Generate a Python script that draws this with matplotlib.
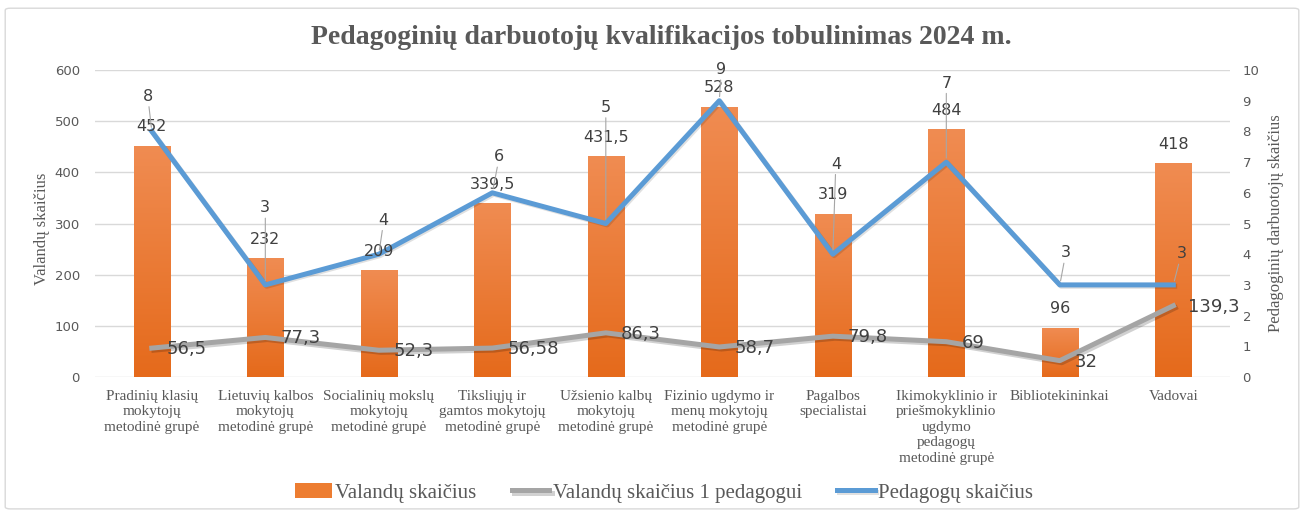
import numpy as np
import matplotlib.pyplot as plt
import matplotlib.patheffects as pe
from matplotlib.colors import LinearSegmentedColormap
from matplotlib.patches import FancyBboxPatch

categories = ['Pradinių klasių\nmokytojų\nmetodinė grupė',
              'Lietuvių kalbos\nmokytojų\nmetodinė grupė',
              'Socialinių mokslų\nmokytojų\nmetodinė grupė',
              'Tiksliųjų ir\ngamtos mokytojų\nmetodinė grupė',
              'Užsienio kalbų\nmokytojų\nmetodinė grupė',
              'Fizinio ugdymo ir\nmenų mokytojų\nmetodinė grupė',
              'Pagalbos\nspecialistai',
              'Ikimokyklinio ir\npriešmokyklinio\nugdymo\npedagogų\nmetodinė grupė',
              'Bibliotekininkai',
              'Vadovai']
hours = [452, 232, 209, 339.5, 431.5, 528, 319, 484, 96, 418]
hours_per_teacher = [56.5, 77.3, 52.3, 56.58, 86.3, 58.7, 79.8, 69, 32, 139.3]
teachers = [8, 3, 4, 6, 5, 9, 4, 7, 3, 3]

# label offsets for the teacher count labels (pixels)
blue_off = [(-4, 35), (0, 77), (5, 34), (7, 36), (0, 116),
            (2, 31), (3, 90), (0, 79), (6, 32), (8, 31)]

ORANGE = '#ED7D31'
GREY = '#A5A5A5'
BLUE = '#5B9BD5'
TXT = '#595959'
NUM = '#404040'
SERIF = 'Liberation Serif'


def fmt(v):
    return f'{v:g}'.replace('.', ',')


fig = plt.figure(figsize=(13.04, 5.13), dpi=100)
fig.patches.append(FancyBboxPatch((0.004, 0.008), 0.992, 0.976,
                                  boxstyle='round,pad=0,rounding_size=0.004',
                                  transform=fig.transFigure, fc='none',
                                  ec='#D9D9D9', lw=1))

ax = fig.add_axes([0.0729, 0.2651, 0.8704, 0.5984])
ax2 = ax.twinx()
x = np.arange(len(categories))

# bars with a vertical gradient
bars = ax.bar(x, hours, width=0.32, color=ORANGE, zorder=1.9, label='Valandų skaičius')
cmap = LinearSegmentedColormap.from_list('bar', ['#E56A1B', '#F08C52'])
grad = np.linspace(1, 0, 256).reshape(-1, 1)
for b in bars:
    bx, by, w, h = b.get_x(), b.get_y(), b.get_width(), b.get_height()
    im = ax.imshow(grad, cmap=cmap, extent=[bx, bx + w, by, by + h],
                   aspect='auto', zorder=2, origin='upper')
    im.set_clip_path(b)

grey_line, = ax.plot(x, hours_per_teacher, color=GREY, lw=3.6, zorder=3, solid_joinstyle='round',
                     label='Valandų skaičius 1 pedagogui',
                     path_effects=[pe.SimpleLineShadow(offset=(1.5, -1.5), shadow_color='k', alpha=0.18),
                                   pe.Normal()])
blue_line, = ax2.plot(x, teachers, color=BLUE, lw=3.6, zorder=3, solid_joinstyle='round',
                      label='Pedagogų skaičius',
                      path_effects=[pe.SimpleLineShadow(offset=(1, -1), shadow_color='k', alpha=0.12),
                                    pe.Normal()])

ax.set_xlim(-0.5, len(categories) - 0.5)
ax.set_ylim(0, 600)
ax.set_yticks(np.arange(0, 601, 100))
ax2.set_ylim(0, 10)
ax2.set_yticks(np.arange(0, 11, 1))

ax.yaxis.grid(True, color='#D9D9D9', lw=1)
ax.set_axisbelow(True)
for a in (ax, ax2):
    for s in a.spines.values():
        s.set_visible(False)
ax.tick_params(axis='y', length=0, labelsize=9.5, labelcolor=TXT, pad=11)
ax2.tick_params(axis='y', length=0, labelsize=9.5, labelcolor=TXT, pad=9)
ax.tick_params(axis='x', length=0, pad=9)
ax.set_xticks(x)
ax.set_xticklabels(categories, family=SERIF, fontsize=11, color=TXT, linespacing=1.25, va='top')

# data labels
for i in range(len(categories)):
    ax2.annotate(fmt(hours[i]), (x[i], hours[i]), xycoords=ax.transData,
                 xytext=(0, 19), textcoords='offset pixels', ha='center', va='center',
                 fontsize=11.5, color=NUM, zorder=5)
    ax2.annotate(fmt(hours_per_teacher[i]), (x[i], hours_per_teacher[i]), xycoords=ax.transData,
                 xytext=(15, -1), textcoords='offset pixels', ha='left', va='center',
                 fontsize=13, color=NUM, zorder=5)
    ax2.annotate(fmt(teachers[i]), (x[i], teachers[i]),
                 xytext=blue_off[i], textcoords='offset pixels', ha='center', va='center',
                 fontsize=11.5, color=NUM, zorder=5,
                 arrowprops=dict(arrowstyle='-', color='#A6A6A6', lw=0.8, shrinkA=0, shrinkB=3))

fig.text(0.507, 0.927, 'Pedagoginių darbuotojų kvalifikacijos tobulinimas 2024 m.',
         family=SERIF, fontsize=20, fontweight='bold', color=TXT, ha='center', va='center')
fig.text(42 / 1304, 1 - 229 / 513, 'Valandų skaičius', family=SERIF, fontsize=12,
         color=TXT, rotation=90, ha='center', va='center')
fig.text(1276 / 1304, 1 - 223 / 513, 'Pedagoginių darbuotojų skaičius', family=SERIF,
         fontsize=12, color=TXT, rotation=90, ha='center', va='center')

leg = fig.legend([bars, grey_line, blue_line],
                 ['Valandų skaičius', 'Valandų skaičius 1 pedagogui', 'Pedagogų skaičius'],
                 loc='center', bbox_to_anchor=(0.509, 0.039), ncol=3,
                 frameon=False, prop={'family': SERIF, 'size': 15}, handlelength=1.8,
                 handletextpad=0.15, columnspacing=1.7)
for t in leg.get_texts():
    t.set_color(TXT)

fig.savefig('out.png', dpi=100)
